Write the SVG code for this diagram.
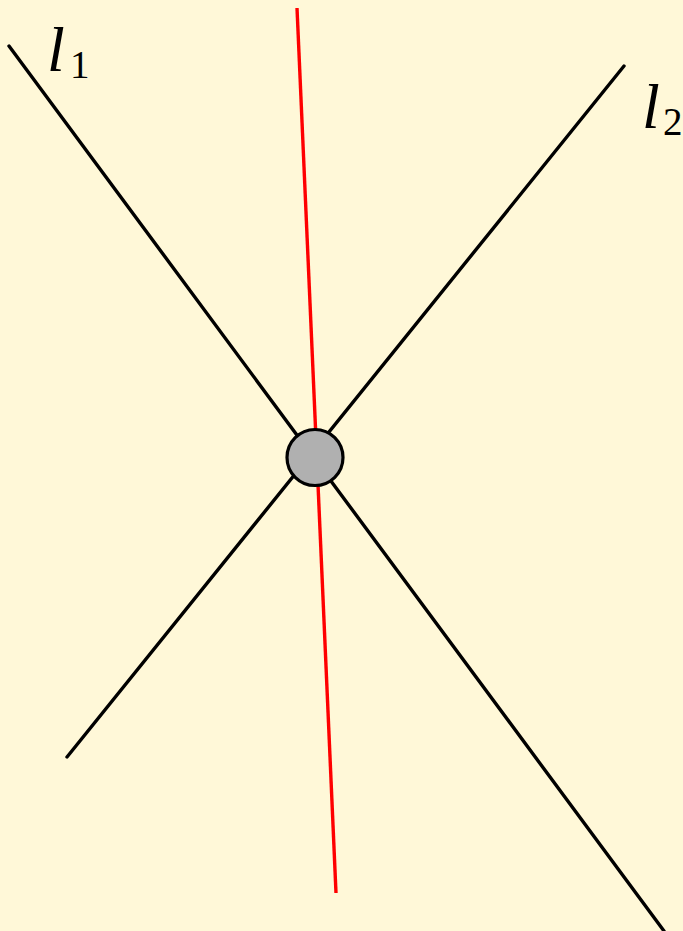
<svg xmlns="http://www.w3.org/2000/svg" width="683" height="931" viewBox="0 0 683 931">
<style>
.ln{stroke:#000;stroke-width:3.4;stroke-linecap:round;fill:none}
.red{stroke:#ff0000;stroke-width:3.4;fill:none}
.lab{font-family:"Liberation Serif",serif;font-style:italic;font-size:64px;fill:#000}
.sub{font-family:"Liberation Serif",serif;font-size:39px;fill:#000}
</style>
<rect width="683" height="931" fill="#fff8d8"/>
<g id="connectors">
<line class="ln" x1="9" y1="46" x2="664" y2="931"/>
<line class="ln" x1="624" y1="66" x2="67" y2="757"/>
<line class="red" x1="297" y1="8" x2="336" y2="893"/>
</g>
<g id="node">
<circle cx="315" cy="457.5" r="28" fill="#b0b0b0" stroke="#000" stroke-width="3.2"/>
</g>
<g id="label-l1">
<text class="lab" x="47" y="71">l</text>
<text class="sub" x="70" y="78">1</text>
</g>
<g id="label-l2">
<text class="lab" x="642" y="128">l</text>
<text class="sub" x="663" y="135">2</text>
</g>
</svg>
